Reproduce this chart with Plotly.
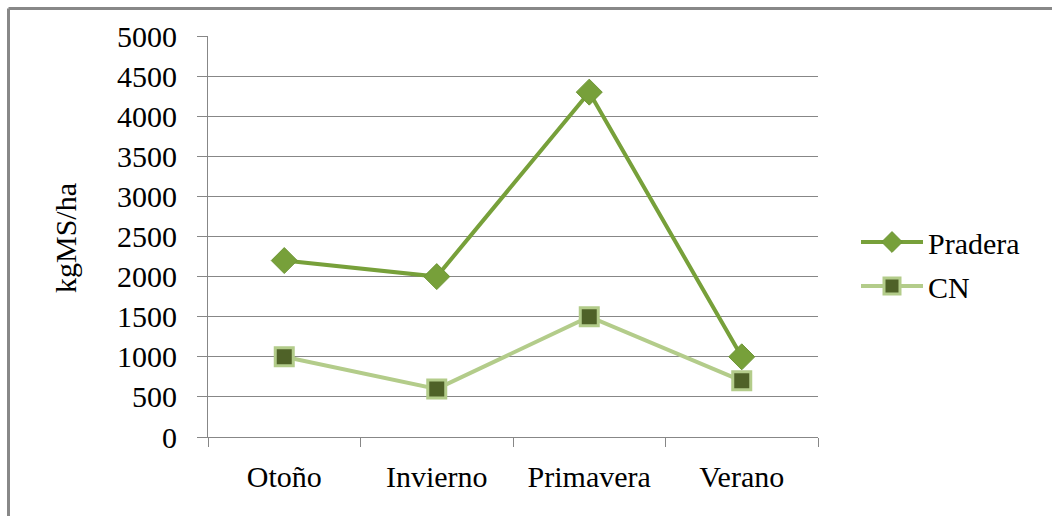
import plotly.graph_objects as go

categories = ["Otoño", "Invierno", "Primavera", "Verano"]
pradera = [2200, 2000, 4300, 1000]
cn = [1000, 600, 1500, 700]
y_ticks = [0, 500, 1000, 1500, 2000, 2500, 3000, 3500, 4000, 4500, 5000]

FONT = "Liberation Serif"

fig = go.Figure()
fig.add_trace(go.Scatter(
    x=categories, y=pradera, name="Pradera", mode="lines+markers",
    legendgroup="g1",
    line=dict(color="#77A03A", width=4),
    marker=dict(symbol="diamond", size=20, color="#77A03A",
                line=dict(color="#6E9636", width=1)),
))
fig.add_trace(go.Scatter(
    x=categories, y=cn, name="CN", mode="lines+markers",
    legendgroup="g2",
    line=dict(color="#B3CC8A", width=4),
    marker=dict(symbol="square", size=18, color="#4F6228",
                line=dict(color="#B3CC8A", width=3)),
))

L, R, T, B = 208, 1052 - 818, 36, 516 - 437
pw, ph = 1052 - L - R, 516 - T - B

def px_to_paper_x(p):
    return (p - L) / pw

def px_to_paper_y(p):
    return (516 - B - p) / ph

fig.update_layout(
    width=1052, height=516,
    margin=dict(l=L, r=R, t=T, b=B),
    paper_bgcolor="white", plot_bgcolor="white",
    font=dict(family=FONT, color="black", size=30),
    showlegend=True,
    legend=dict(x=px_to_paper_x(856), xanchor="left",
                y=px_to_paper_y(264), yanchor="middle",
                font=dict(family=FONT, size=30),
                bgcolor="rgba(0,0,0,0)", tracegroupgap=2,
                itemwidth=62),
    xaxis=dict(
        type="category", showgrid=False, showline=True,
        linecolor="#878787", linewidth=1,
        ticks="outside", ticklen=9, tickcolor="#878787",
        tickson="boundaries",
        tickfont=dict(family=FONT, size=30),
        ticklabelstandoff=13,
        range=[-0.5, 3.5],
    ),
    yaxis=dict(
        range=[0, 5000], tickvals=y_ticks,
        showgrid=True, gridcolor="#878787", gridwidth=1,
        showline=True, linecolor="#878787", linewidth=1,
        ticks="outside", ticklen=10, tickcolor="#878787",
        tickfont=dict(family=FONT, size=30),
        ticklabelstandoff=14, zeroline=False,
    ),
    annotations=[dict(
        text="kgMS/ha", textangle=-90, showarrow=False,
        xref="paper", yref="paper",
        x=px_to_paper_x(66), y=px_to_paper_y(238),
        xanchor="center", yanchor="middle",
        font=dict(family=FONT, size=30),
    )],
    shapes=[
        dict(type="line", xref="paper", yref="paper",
             x0=px_to_paper_x(8.5), x1=px_to_paper_x(1100),
             y0=px_to_paper_y(8.5), y1=px_to_paper_y(8.5),
             line=dict(color="#888888", width=3)),
        dict(type="line", xref="paper", yref="paper",
             x0=px_to_paper_x(8.5), x1=px_to_paper_x(8.5),
             y0=px_to_paper_y(8.5), y1=px_to_paper_y(600),
             line=dict(color="#888888", width=3)),
    ],
)

fig.write_html("out.html")
